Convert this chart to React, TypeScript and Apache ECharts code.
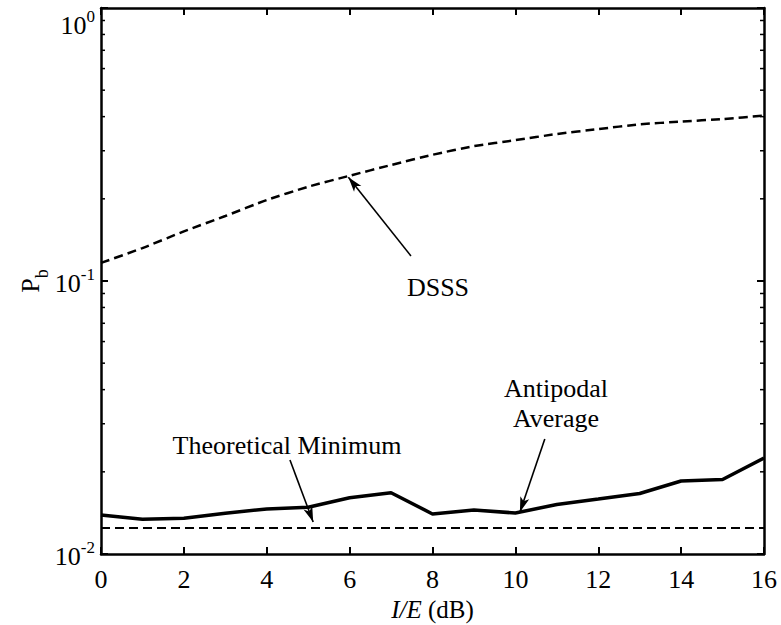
import React, { useEffect, useRef } from "react";
import * as echarts from "echarts";

// ---------- data ----------
const xValues = [0, 1, 2, 3, 4, 5, 6, 7, 8, 9, 10, 11, 12, 13, 14, 15, 16];
const dsssValues = [
  0.1165, 0.132, 0.152, 0.173, 0.198, 0.2215, 0.243, 0.266, 0.29, 0.312, 0.328,
  0.3455, 0.36, 0.375, 0.3835, 0.392, 0.4035,
];
const antipodalValues = [
  0.0139, 0.0134, 0.01352, 0.0141, 0.01462, 0.01483, 0.01608, 0.01677, 0.01402,
  0.01449, 0.01413, 0.01518, 0.0159, 0.01666, 0.01851, 0.01874, 0.02247,
];
const theoreticalMinX = [0, 16];
const theoreticalMinValues = [0.01245, 0.01245];
const xMin = 0;
const xMax = 16;
const xInterval = 2;
const yMin = 0.01;
const yMax = 1;
const minorTickValues = [
  0.02, 0.03, 0.04, 0.05, 0.06, 0.07, 0.08, 0.09, 0.2, 0.3, 0.4, 0.5, 0.6, 0.7,
  0.8, 0.9,
];
// arrows: [from, to] in data coordinates
const dsssArrow = [[7.48, 0.1236], [5.97, 0.24]];
const antipodalArrow = [[10.71, 0.02636], [10.11, 0.01425]];
const theoryArrow = [[4.56, 0.02208], [5.12, 0.0131]];

const FONT = "'Liberation Serif', 'Times New Roman', serif";
const FS = 26;

export default function App() {
  const ref = useRef<HTMLDivElement>(null);

  useEffect(() => {
    if (!ref.current) return;
    const chart = echarts.init(ref.current, null, { renderer: "svg" });

    const axisLine = { show: true, onZero: false, lineStyle: { color: "#000", width: 2.5 } };
    const axisTick = { show: true, inside: true, length: 7, lineStyle: { color: "#000", width: 2 } };

    const arrowLine = (a: number[][]) => [
      { coord: a[0], symbol: "none" },
      { coord: a[1], symbol: "arrow" },
    ];

    const option: any = {
      animation: false,
      backgroundColor: "#fff",
      grid: { left: 101, right: 17, top: 8, bottom: 71, outerBoundsMode: "none" },
      xAxis: [
        {
          type: "value",
          min: xMin,
          max: xMax,
          interval: xInterval,
          position: "bottom",
          axisLine,
          axisTick,
          splitLine: { show: false },
          axisLabel: { color: "#000", fontFamily: FONT, fontSize: FS, margin: 12 },
          name: "{i|I/E}{n| (dB)}",
          nameLocation: "middle",
          nameGap: 40,
          nameTextStyle: {
            rich: {
              i: { fontStyle: "italic", fontFamily: FONT, fontSize: FS - 1, color: "#000" },
              n: { fontFamily: FONT, fontSize: FS - 1, color: "#000" },
            },
          },
        },
        {
          type: "value",
          min: xMin,
          max: xMax,
          interval: xInterval,
          position: "top",
          axisLine,
          axisTick,
          splitLine: { show: false },
          axisLabel: { show: false },
        },
      ],
      yAxis: [
        {
          type: "log",
          logBase: 10,
          min: yMin,
          max: yMax,
          position: "left",
          axisLine,
          axisTick,
          splitLine: { show: false },
          minorTick: { show: false },
          axisLabel: {
            margin: 6,
            formatter: (v: number) => {
              const e = Math.round(Math.log10(v));
              return e === 0 ? `{b| }\n{b|10}{s|${e}}` : `{b|10}{s|${e}}`;
            },
            rich: {
              b: { fontFamily: FONT, fontSize: FS, color: "#000", lineHeight: 30, verticalAlign: "bottom" },
              s: { fontFamily: FONT, fontSize: 17, color: "#000", lineHeight: 30, verticalAlign: "top" },
            },
          },
          name: "{p|P}{s|b}",
          nameLocation: "middle",
          nameRotate: 90,
          nameGap: 50,
          nameMoveOverlap: false,
          nameTextStyle: {
            rich: {
              p: { fontFamily: FONT, fontSize: FS, color: "#000", lineHeight: 34, verticalAlign: "top" },
              s: { fontFamily: FONT, fontSize: 18, color: "#000", lineHeight: 34, verticalAlign: "bottom" },
            },
          },
        },
        {
          type: "log",
          logBase: 10,
          min: yMin,
          max: yMax,
          position: "right",
          axisLine,
          axisTick,
          splitLine: { show: false },
          axisLabel: { show: false },
        },
      ],
      series: [
        {
          name: "DSSS",
          type: "line",
          xAxisIndex: 0,
          yAxisIndex: 0,
          data: xValues.map((x, i) => [x, dsssValues[i]]),
          showSymbol: false,
          smooth: 0.2,
          lineStyle: { color: "#000", width: 2.5, type: [9, 5] },
          markLine: {
            silent: true,
            symbolSize: [7, 15],
            lineStyle: { color: "#000", width: 1.6, type: "solid" },
            label: { show: false },
            data: [arrowLine(dsssArrow), arrowLine(antipodalArrow), arrowLine(theoryArrow)],
          },
        },
        {
          name: "Theoretical Minimum",
          type: "line",
          xAxisIndex: 0,
          yAxisIndex: 0,
          data: theoreticalMinX.map((x, i) => [x, theoreticalMinValues[i]]),
          showSymbol: false,
          lineStyle: { color: "#000", width: 2.2, type: [9, 5] },
        },
        {
          name: "Antipodal Average",
          type: "line",
          xAxisIndex: 0,
          yAxisIndex: 0,
          data: xValues.map((x, i) => [x, antipodalValues[i]]),
          showSymbol: false,
          lineStyle: { color: "#000", width: 3.5 },
        },
        {
          name: "minorTicks",
          type: "custom",
          xAxisIndex: 0,
          yAxisIndex: 0,
          silent: true,
          data: minorTickValues.map((v) => [xMin, v]),
          renderItem: (_p: any, api: any) => {
            const v = api.value(1);
            const l = api.coord([xMin, v]);
            const r = api.coord([xMax, v]);
            return {
              type: "group",
              children: [
                { type: "line", shape: { x1: l[0], y1: l[1], x2: l[0] + 4, y2: l[1] }, style: { stroke: "#000", lineWidth: 1.5 } },
                { type: "line", shape: { x1: r[0] - 4, y1: r[1], x2: r[0], y2: r[1] }, style: { stroke: "#000", lineWidth: 1.5 } },
              ],
            };
          },
        },
      ],
      graphic: [
        {
          type: "text",
          x: 438,
          y: 287,
          style: { text: "DSSS", font: `${FS}px ${FONT}`, fill: "#000", align: "center", verticalAlign: "middle" },
        },
        {
          type: "text",
          x: 556,
          y: 403,
          style: {
            text: "Antipodal\nAverage",
            font: `${FS}px ${FONT}`,
            fill: "#000",
            align: "center",
            verticalAlign: "middle",
            lineHeight: 30,
          },
        },
        {
          type: "text",
          x: 287,
          y: 445,
          style: {
            text: "Theoretical Minimum",
            font: `${FS}px ${FONT}`,
            fill: "#000",
            align: "center",
            verticalAlign: "middle",
          },
        },
      ],
    };

    chart.setOption(option);
    return () => chart.dispose();
  }, []);

  return (
    <div
      ref={ref}
      style={{ position: "absolute", left: 0, top: 0, width: 781, height: 625, background: "#fff" }}
    />
  );
}
